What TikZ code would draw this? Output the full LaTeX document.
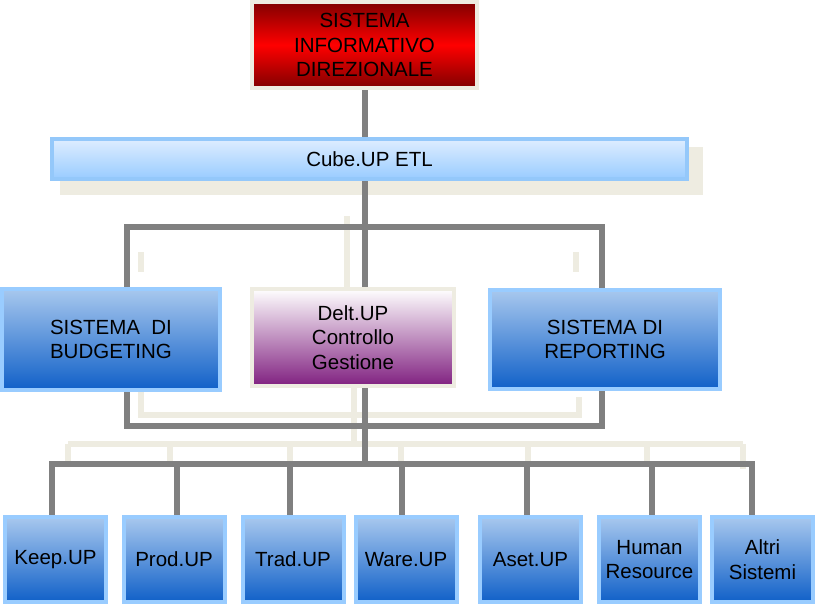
\documentclass[tikz,border=0pt]{standalone}
\usepackage{fontspec}
\setmainfont{Liberation Sans}
\usepackage{tikz}
\usetikzlibrary{backgrounds}
\definecolor{beige}{RGB}{238,236,225}
\definecolor{linegray}{RGB}{128,128,128}
\definecolor{darkred}{RGB}{128,0,0}
\definecolor{brightred}{RGB}{255,0,0}
\definecolor{cubeline}{RGB}{148,200,250}
\definecolor{cubetop}{RGB}{222,237,255}
\definecolor{cubebot}{RGB}{153,204,255}
\definecolor{bluetop}{RGB}{168,200,238}
\definecolor{bluebot}{RGB}{16,96,200}
\definecolor{purp}{RGB}{128,32,128}

\begin{document}
\begin{tikzpicture}[x=1pt, y=-1pt,
  box/.style={rectangle, draw, line width=4pt, align=center, inner sep=0pt, font=\fontsize{20.5}{24.5}\selectfont},
  blue box/.style={box, draw=cubebot, top color=bluetop, bottom color=bluebot},
  leaf/.style={blue box, minimum width=101pt, minimum height=85pt},
  conn/.style={draw=linegray, line width=6pt, line cap=rect},
  shd/.style={draw=beige, line width=6pt}]
\useasboundingbox (0,0) rectangle (815,604);

\node[box, draw=beige, top color=darkred, bottom color=darkred, middle color=brightred, minimum width=225pt, minimum height=86pt] (sid) at (364.5,45) {SISTEMA\\INFORMATIVO\\DIREZIONALE};
\node[box, draw=cubeline, top color=cubetop, bottom color=cubebot, minimum width=635pt, minimum height=40pt] (cube) at (369.5,159) {Cube.UP ETL};

\node[blue box, minimum width=218pt, minimum height=101pt] (bud) at (111,339.5) {SISTEMA\ \ DI\\BUDGETING};
\node[box, draw=beige, top color=white, bottom color=purp, minimum width=202pt, minimum height=97pt] (delt) at (353,337.5) {Delt.UP\\Controllo\\Gestione};
\node[blue box, minimum width=230pt, minimum height=99pt] (rep) at (605,339.5) {SISTEMA DI\\REPORTING};

\foreach \n/\x/\t in {keep/55.5/Keep.UP, prod/174/Prod.UP, trad/293/Trad.UP, ware/406/Ware.UP, aset/530.5/Aset.UP, hr/649.5/{Human\\Resource}, altri/762.5/{Altri\\Sistemi}}
  \node[leaf] (\n) at (\x,559.5) {\t};

\coordinate (hub1) at (365,227);
\coordinate (hub2) at (365,426.5);
\coordinate (hub3) at (365,464);

\begin{scope}[on background layer]
% shadows
\fill[beige] ([shift={(10pt,-10pt)}]cube.north west) rectangle ([shift={(14pt,-14pt)}]cube.south east);
\draw[shd] (347,216) -- (347,288);
\draw[shd] (141,252) -- (141,272);
\draw[shd] (576,252) -- (576,272);
\draw[shd] (141,392) -- (141,415) -- (579,415) -- (579,397);
\draw[shd] (354,388) -- (354,444);
\draw[shd] (68,444) -- (743,444);
\foreach \x in {68,170,290,401,528,647}
  \draw[shd] (\x,444) -- (\x,462);
\draw[shd] (743,444) -- (743,469);
% connectors
\draw[conn] (sid.south) -- (sid.south |- cube.north);
\draw[conn] (hub1 |- cube.south) -- (hub1 |- delt.north);
\draw[conn] ([xshift=16pt]bud.north) |- (hub1) -| ([xshift=-3pt]rep.north);
\draw[conn] ([xshift=16pt]bud.south) |- (hub2) -| ([xshift=-3pt]rep.south);
\draw[conn] (hub2 |- delt.south) -- (hub3);
\draw[conn] ([xshift=-3.5pt]keep.north |- hub3) -- ([xshift=-10.5pt]altri.north |- hub3);
\foreach \n/\dx in {keep/-3.5, prod/3, trad/-3, ware/-4, aset/-3.5, hr/2.5, altri/-10.5}
  \draw[conn] ([xshift=\dx pt]\n.north) -- ([xshift=\dx pt]\n.north |- hub3);
\end{scope}
\end{tikzpicture}
\end{document}
